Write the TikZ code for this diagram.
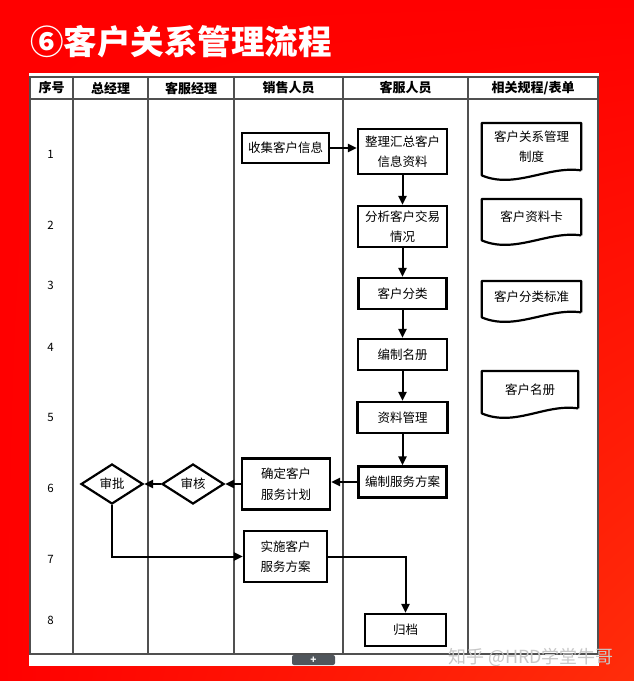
\documentclass[tikz,border=0pt]{standalone}
\usepackage{fontspec}
\setmainfont{Noto Sans CJK SC}
\usetikzlibrary{shapes.geometric, arrows.meta, calc, shadings}
\definecolor{bgred}{RGB}{255, 0, 0}
\definecolor{bgorange}{RGB}{255, 45, 10}
\definecolor{gridgray}{RGB}{80, 80, 80}
\definecolor{tabgray}{RGB}{80, 86, 92}

\begin{document}
\begin{tikzpicture}[
  x=1pt, y=-1pt,
  box/.style={draw, line width=2.2pt, inner sep=0pt, align=center, font=\fontsize{12.5}{20.5}\selectfont},
  choice/.style={draw, diamond, line width=2.2pt, inner sep=0pt, minimum width=62pt, minimum height=40pt, font=\fontsize{12.5}{15}\selectfont},
  doc/.style={inner sep=0pt, anchor=north, align=center, font=\fontsize{12.5}{20.5}\selectfont},
  docline/.style={line width=2.2pt, line join=round},
  frame/.style={draw=gridgray, line width=1.3pt},
  head/.style={font=\fontsize{13}{15}\selectfont\bfseries},
  num/.style={font=\fontsize{11.5}{13}\selectfont},
  arrow/.style={-{Triangle[length=9pt, width=8pt]}, line width=2pt}
]
  % Background and panel
  \shade[upper left=bgred, upper right=bgred, lower left=bgred, lower right=bgorange] (0,0) rectangle (634,681);
  \fill[white] (29,73) rectangle (599,666);
  \node[anchor=west, inner sep=0pt, text=white, font=\fontsize{33.5}{36}\selectfont\bfseries] (title) at (30,42) {⑥客户关系管理流程};

  % Table
  \draw[frame] (30,77) rectangle (598,654);
  \draw[frame] (30,99) -- (598,99);
  \foreach \cx in {73,148,234,343,468}
    \draw[frame] (\cx,77) -- (\cx,654);
  \foreach \cx/\lbl [count=\i] in {51.5/序号, 110.5/总经理, 191/客服经理, 288.5/销售人员, 405.5/客服人员, 533/{相关规程/表单}}
    \node[head] (h\i) at (\cx,88) {\lbl};
  \foreach \ry [count=\i] in {154,225,285,347,417,488,559,620}
    \node[num] (n\i) at (50.5,\ry) {\i};

  % Flow
  \node[box, minimum width=87pt, minimum height=30pt] (collect) at (285.5,148) {收集客户信息};
  \node[box, minimum width=89pt, minimum height=45pt] (sort) at (402.5,151.5) {整理汇总客户\\信息资料};
  \node[box, minimum width=89pt, minimum height=41pt] (analyse) at (402.5,226.5) {分析客户交易\\情况};
  \node[box, minimum width=88pt, minimum height=31pt] (classify) at (402.5,293.5) {客户分类};
  \node[box, minimum width=89pt, minimum height=31pt] (roster) at (402.5,354.5) {编制名册};
  \node[box, minimum width=90pt, minimum height=31pt] (manage) at (402.5,417.5) {资料管理};
  \node[box, minimum width=88pt, minimum height=31pt] (plan) at (402.5,482) {编制服务方案};
  \node[box, minimum width=88pt, minimum height=51pt] (confirm) at (286,484) {确定客户\\服务计划};
  \node[choice] (audit) at (193,484) {审核};
  \node[choice] (approve) at (112,484) {审批};
  \node[box, minimum width=83pt, minimum height=51pt] (implement) at (285.5,556.5) {实施客户\\服务方案};
  \node[box, minimum width=81pt, minimum height=32pt] (archive) at (405.5,630) {归档};

  \draw[arrow] (collect) -- (collect -| sort.west);
  \draw[arrow] (sort) -- (analyse);
  \draw[arrow] (analyse) -- (classify);
  \draw[arrow] (classify) -- (roster);
  \draw[arrow] (roster) -- (manage);
  \draw[arrow] (manage) -- (plan);
  \draw[arrow] (plan.west) -- (plan.west -| confirm.east);
  \draw[arrow] (confirm) -- (audit);
  \draw[arrow] (audit) -- (approve);
  \draw[arrow] (approve.south) |- (implement.west);
  \draw[arrow] (implement.east) -| (archive.north);

  % Forms
  \node[doc, minimum width=99pt, minimum height=47pt] (d1) at (531.5,123) {客户关系管理\\制度};
  \node[doc, minimum width=99pt, minimum height=36pt] (d2) at (531.5,199) {客户资料卡};
  \node[doc, minimum width=99pt, minimum height=31pt] (d3) at (531.5,281) {客户分类标准};
  \node[doc, minimum width=96pt, minimum height=37pt] (d4) at (530,371) {客户名册};
  \foreach \d in {d1,d2,d3,d4}
    \draw[docline] (\d.south east) -- (\d.north east) -- (\d.north west) -- ($(\d.south west)+(0,5)$)
      .. controls +(33,14) and ($(\d.south east)+(-33,-5)$) .. (\d.south east);

  % Footer
  \node[fill=tabgray, rounded corners=2pt, minimum width=43pt, minimum height=10pt, inner sep=0pt, text=white, font=\fontsize{10}{10}\selectfont\bfseries] (plus) at (313.5,660) {+};
  \node[text=black!22, font=\fontsize{18}{20}\selectfont] (wm) at (531,657) {知乎 @HRD学堂牛哥};
\end{tikzpicture}
\end{document}
